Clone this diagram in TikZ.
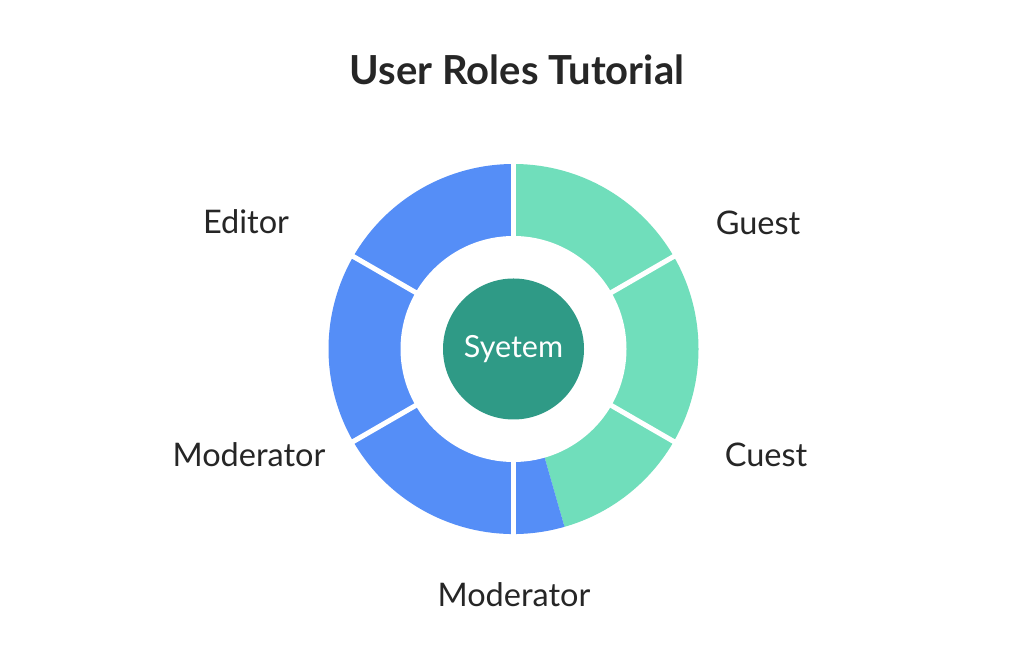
\documentclass[tikz,border=0pt]{standalone}
\usepackage{fontspec}
\setmainfont{Lato}
\usetikzlibrary{calc}
\definecolor{segblue}{HTML}{558EF7}
\definecolor{seggreen}{HTML}{70DEBB}
\definecolor{coreteal}{HTML}{2F9A86}
\definecolor{txt}{HTML}{262626}
\tikzset{
  lbl/.style={text=txt, font=\fontsize{32.5}{38}\selectfont, anchor=base, inner sep=0pt},
  ttl/.style={text=txt, font=\bfseries\fontsize{40}{48}\selectfont, anchor=base, inner sep=0pt},
  gap/.style={white, line width=5pt},
}
\begin{document}
\begin{tikzpicture}[x=1pt,y=1pt]
\useasboundingbox (0,0) rectangle (1024,663);
\fill[white] (0,0) rectangle (1024,663);
\coordinate (C) at (513.5,314);
\def\R{185}
\def\r{113}
% sectors
\fill[seggreen] (C) -- ++(90:\R) arc[start angle=90, end angle=-74, radius=\R] -- cycle;
\fill[segblue] (C) -- ++(-74:\R) arc[start angle=-74, end angle=-270, radius=\R] -- cycle;
% inner hole
\fill[white] (C) circle[radius=\r];
% separators
\foreach \a in {90,30,-30,-90,-150,150}
  \draw[gap] (C) -- ++(\a:\R+3);
% core
\node[circle, fill=coreteal, minimum size=141pt, inner sep=0pt, text=white,
      font=\fontsize{30.5}{36}\selectfont] (core) at (C) {Syetem};
% labels
\node[ttl] (title) at (517,578) {User Roles Tutorial};
\node[lbl] (editor) at (246,429) {Editor};
\node[lbl] (guest) at (758,428) {Guest};
\node[lbl] (modl) at (249,196) {Moderator};
\node[lbl] (cuest) at (766,196) {Cuest};
\node[lbl] (modb) at (514,56) {Moderator};
\end{tikzpicture}
\end{document}
